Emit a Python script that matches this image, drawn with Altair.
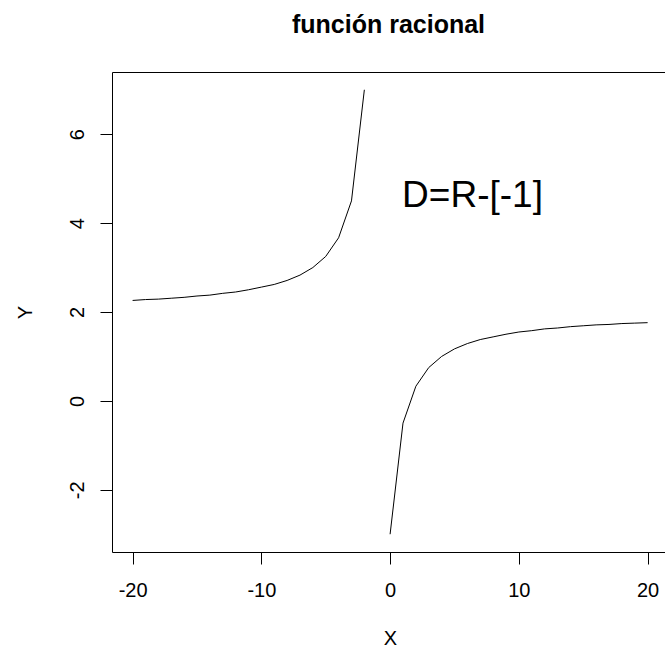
import altair as alt
import pandas as pd

# Left branch (x < -1)
x_left = [-20, -19, -18, -17, -16, -15, -14, -13, -12, -11, -10,
          -9, -8, -7, -6, -5, -4, -3, -2]
y_left = [2.26, 2.28, 2.29, 2.31, 2.33, 2.36, 2.38, 2.42, 2.45, 2.50, 2.56,
          2.62, 2.71, 2.83, 3.00, 3.25, 3.67, 4.50, 7.00]
# Right branch (x > -1)
x_right = [0, 1, 2, 3, 4, 5, 6, 7, 8, 9, 10,
           11, 12, 13, 14, 15, 16, 17, 18, 19, 20]
y_right = [-3.00, -0.50, 0.33, 0.75, 1.00, 1.17, 1.29, 1.38, 1.44, 1.50, 1.55,
           1.58, 1.62, 1.64, 1.67, 1.69, 1.71, 1.72, 1.74, 1.75, 1.76]

x_ticks = [-20, -10, 0, 10, 20]
y_ticks = [-2, 0, 2, 4, 6]

label_text = ["D=R-[-1]"]
label_x = [6.4]
label_y = [4.6]

df = pd.DataFrame({
    "x": x_left + x_right,
    "y": y_left + y_right,
    "branch": ["left"] * len(x_left) + ["right"] * len(x_right),
})
df_text = pd.DataFrame({"x": label_x, "y": label_y, "t": label_text})

FONT = "Liberation Sans"
xdom = [-21.6, 21.35]
ydom = [-3.4, 7.4]

xscale = alt.Scale(domain=xdom, nice=False, zero=False)
yscale = alt.Scale(domain=ydom, nice=False, zero=False)

yaxis = alt.Axis(
    values=y_ticks, title="Y", grid=False, orient="left",
    tickSize=12, tickColor="black", domainColor="black",
    labelFont=FONT, labelFontSize=20, labelColor="black", labelPadding=17,
    labelAngle=270, labelAlign="center", labelBaseline="alphabetic", labelFlush=False,
    labelExpr="'' + datum.value",
    titleFont=FONT, titleFontSize=20, titleFontWeight="normal", titleColor="black",
    titleAngle=270, titleX=-87, titleY=240, titleBaseline="middle", titleAlign="center")

lines = alt.Chart(df).mark_line(color="black", strokeWidth=1, clip=True).encode(
    x=alt.X("x:Q", scale=xscale, axis=alt.Axis(
        values=x_ticks, title="X", grid=False, orient="bottom",
        tickSize=12, tickColor="black", domainColor="black",
        labelFont=FONT, labelFontSize=20, labelColor="black", labelPadding=16,
        labelBaseline="top", labelFlush=False,
        labelExpr="'' + datum.value",
        titleFont=FONT, titleFontSize=20, titleFontWeight="normal", titleColor="black",
        titleX=278, titleY=86, titleBaseline="middle", titleAlign="center")),
    y=alt.Y("y:Q", scale=yscale, axis=yaxis),
    detail="branch:N",
)

text = alt.Chart(df_text).mark_text(
    font=FONT, fontSize=37, color="black", align="center", baseline="middle"
).encode(
    x=alt.X("x:Q", scale=xscale, axis=alt.Axis(
        orient="top", labels=False, ticks=False, title=None, grid=False,
        domainColor="black")),
    y=alt.Y("y:Q", scale=yscale, axis=yaxis),
    text="t:N",
)

chart = alt.layer(lines, text).resolve_axis(x="independent").properties(
    width=553, height=480,
    title=alt.Title("función racional", font=FONT, fontSize=25, fontWeight="bold",
                    color="black", anchor="middle", offset=14, baseline="alphabetic"),
    autosize=alt.AutoSizeParams(type="none"),
    padding={"left": 112, "top": 72, "right": 0, "bottom": 96},
).configure_view(stroke=None).configure_axis(domainWidth=1, tickWidth=1)

chart.save("out.html", embed_options={"renderer": "svg", "actions": False})
